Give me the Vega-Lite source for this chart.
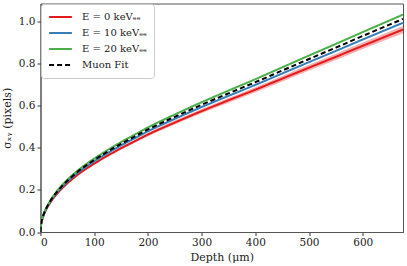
{
"$schema": "https://vega.github.io/schema/vega-lite/v6.json",
"width": 362.5, "height": 228.5,
"autosize": {"type": "none"},
"padding": {"left": 40.5, "top": 3.5, "right": 4, "bottom": 34},
"config": {
  "font": "'DejaVu Serif', serif",
  "view": {"stroke": "#555", "strokeWidth": 1},
  "axis": {"grid": false, "domainColor": "#555", "tickColor": "#333", "tickSize": 3.5, "labelFont": "'DejaVu Serif', serif", "labelFontSize": 10.5, "labelColor": "#222", "titleFont": "'DejaVu Serif', serif", "titleFontSize": 11, "titleFontWeight": "normal", "titleColor": "#222", "labelPadding": 2}
},
"data": {"values": [
{"depth":0,"f":0,"g":0,"b":0,"r":0,"lo":0,"hi":0},
{"depth":1,"f":0.034,"g":0.0347,"b":0.0334,"r":0.0323,"lo":0.0317,"hi":0.0329},
{"depth":2,"f":0.0486,"g":0.0496,"b":0.0477,"r":0.0462,"lo":0.0454,"hi":0.047},
{"depth":4,"f":0.0687,"g":0.0701,"b":0.0675,"r":0.0653,"lo":0.0641,"hi":0.0665},
{"depth":7,"f":0.091,"g":0.0928,"b":0.0894,"r":0.0865,"lo":0.0849,"hi":0.088},
{"depth":10,"f":0.1087,"g":0.1109,"b":0.1067,"r":0.1033,"lo":0.1014,"hi":0.1051},
{"depth":15,"f":0.133,"g":0.1357,"b":0.1306,"r":0.1264,"lo":0.1241,"hi":0.1286},
{"depth":20,"f":0.1537,"g":0.1568,"b":0.1509,"r":0.146,"lo":0.1434,"hi":0.1486},
{"depth":30,"f":0.188,"g":0.1918,"b":0.1846,"r":0.1786,"lo":0.1754,"hi":0.1818},
{"depth":40,"f":0.2173,"g":0.2216,"b":0.2134,"r":0.2064,"lo":0.2027,"hi":0.2101},
{"depth":50,"f":0.243,"g":0.2479,"b":0.2386,"r":0.2309,"lo":0.2268,"hi":0.235},
{"depth":60,"f":0.266,"g":0.2713,"b":0.2612,"r":0.2527,"lo":0.2482,"hi":0.2572},
{"depth":75,"f":0.297,"g":0.3029,"b":0.2917,"r":0.2822,"lo":0.2771,"hi":0.2872},
{"depth":100,"f":0.341,"g":0.3478,"b":0.3349,"r":0.324,"lo":0.3182,"hi":0.3298},
{"depth":125,"f":0.381,"g":0.3886,"b":0.3741,"r":0.362,"lo":0.3555,"hi":0.3684},
{"depth":150,"f":0.418,"g":0.4264,"b":0.4105,"r":0.3971,"lo":0.39,"hi":0.4042},
{"depth":175,"f":0.452,"g":0.461,"b":0.4439,"r":0.4294,"lo":0.4217,"hi":0.4371},
{"depth":200,"f":0.486,"g":0.4957,"b":0.4773,"r":0.4617,"lo":0.4534,"hi":0.47},
{"depth":250,"f":0.546,"g":0.5569,"b":0.5362,"r":0.5187,"lo":0.5094,"hi":0.528},
{"depth":300,"f":0.603,"g":0.6151,"b":0.5921,"r":0.5729,"lo":0.5626,"hi":0.5832},
{"depth":350,"f":0.657,"g":0.6701,"b":0.6452,"r":0.6242,"lo":0.613,"hi":0.6354},
{"depth":400,"f":0.71,"g":0.7242,"b":0.6972,"r":0.6745,"lo":0.6624,"hi":0.6866},
{"depth":450,"f":0.765,"g":0.7803,"b":0.7512,"r":0.7268,"lo":0.7138,"hi":0.7398},
{"depth":500,"f":0.82,"g":0.8364,"b":0.8052,"r":0.779,"lo":0.7651,"hi":0.7929},
{"depth":550,"f":0.874,"g":0.8915,"b":0.8583,"r":0.8303,"lo":0.8154,"hi":0.8452},
{"depth":600,"f":0.929,"g":0.9476,"b":0.9123,"r":0.8826,"lo":0.8668,"hi":0.8984},
{"depth":650,"f":0.983,"g":1.0027,"b":0.9653,"r":0.9339,"lo":0.9172,"hi":0.9506},
{"depth":675,"f":1.01,"g":1.0302,"b":0.9918,"r":0.9595,"lo":0.9423,"hi":0.9767}
]},
"layer": [
  {
    "mark": {"type": "area", "color": "#e41a1c", "opacity": 0.35, "interpolate": "monotone", "clip": true},
    "encoding": {
      "x": {"field": "depth", "type": "quantitative", "scale": {"domain": [0, 675], "nice": false}, "axis": {"values": [0,100,200,300,400,500,600], "format": "d", "title": "Depth (μm)", "titlePadding": 3}},
      "y": {"field": "lo", "type": "quantitative", "scale": {"domain": [0, 1.083], "nice": false}, "axis": {"values": [0,0.2,0.4,0.6,0.8,1.0], "format": ".1f", "title": "σₓᵧ (pixels)", "titlePadding": 6}},
      "y2": {"field": "hi"}
    }
  },
  {
    "transform": [{"fold": ["r", "b", "g", "f"], "as": ["key", "sigma"]}],
    "mark": {"type": "line", "strokeWidth": 2, "interpolate": "monotone", "clip": true},
    "encoding": {
      "x": {"field": "depth", "type": "quantitative"},
      "y": {"field": "sigma", "type": "quantitative"},
      "color": {"field": "key", "type": "nominal", "scale": {"domain": ["r", "b", "g", "f"], "range": ["#e41a1c", "#377eb8", "#4daf4a", "#000000"]},
        "legend": {"title": null, "orient": "none", "legendX": 0.5, "legendY": 0.5, "labelExpr": "datum.label == 'r' ? 'E = 0 keVₑₑ' : datum.label == 'b' ? 'E = 10 keVₑₑ' : datum.label == 'g' ? 'E = 20 keVₑₑ' : 'Muon Fit'", "symbolType": "stroke", "symbolSize": 520, "symbolStrokeWidth": 2, "clipHeight": 12, "labelFont": "'DejaVu Serif', serif", "labelFontSize": 10, "labelColor": "#222", "labelOffset": 9, "rowPadding": 4, "padding": 7, "fillColor": "white", "strokeColor": "#cccccc", "cornerRadius": 3}},
      "strokeDash": {"field": "key", "type": "nominal", "scale": {"domain": ["r", "b", "g", "f"], "range": [[1, 0], [1, 0], [1, 0], [5, 3]]},
        "legend": {"title": null, "orient": "none", "legendX": 0.5, "legendY": 0.5, "labelExpr": "datum.label == 'r' ? 'E = 0 keVₑₑ' : datum.label == 'b' ? 'E = 10 keVₑₑ' : datum.label == 'g' ? 'E = 20 keVₑₑ' : 'Muon Fit'", "symbolType": "stroke", "symbolSize": 520, "symbolStrokeWidth": 2, "clipHeight": 12, "labelFont": "'DejaVu Serif', serif", "labelFontSize": 10, "labelColor": "#222", "labelOffset": 9, "rowPadding": 4, "padding": 7, "fillColor": "white", "strokeColor": "#cccccc", "cornerRadius": 3}}
    }
  }
]
}
